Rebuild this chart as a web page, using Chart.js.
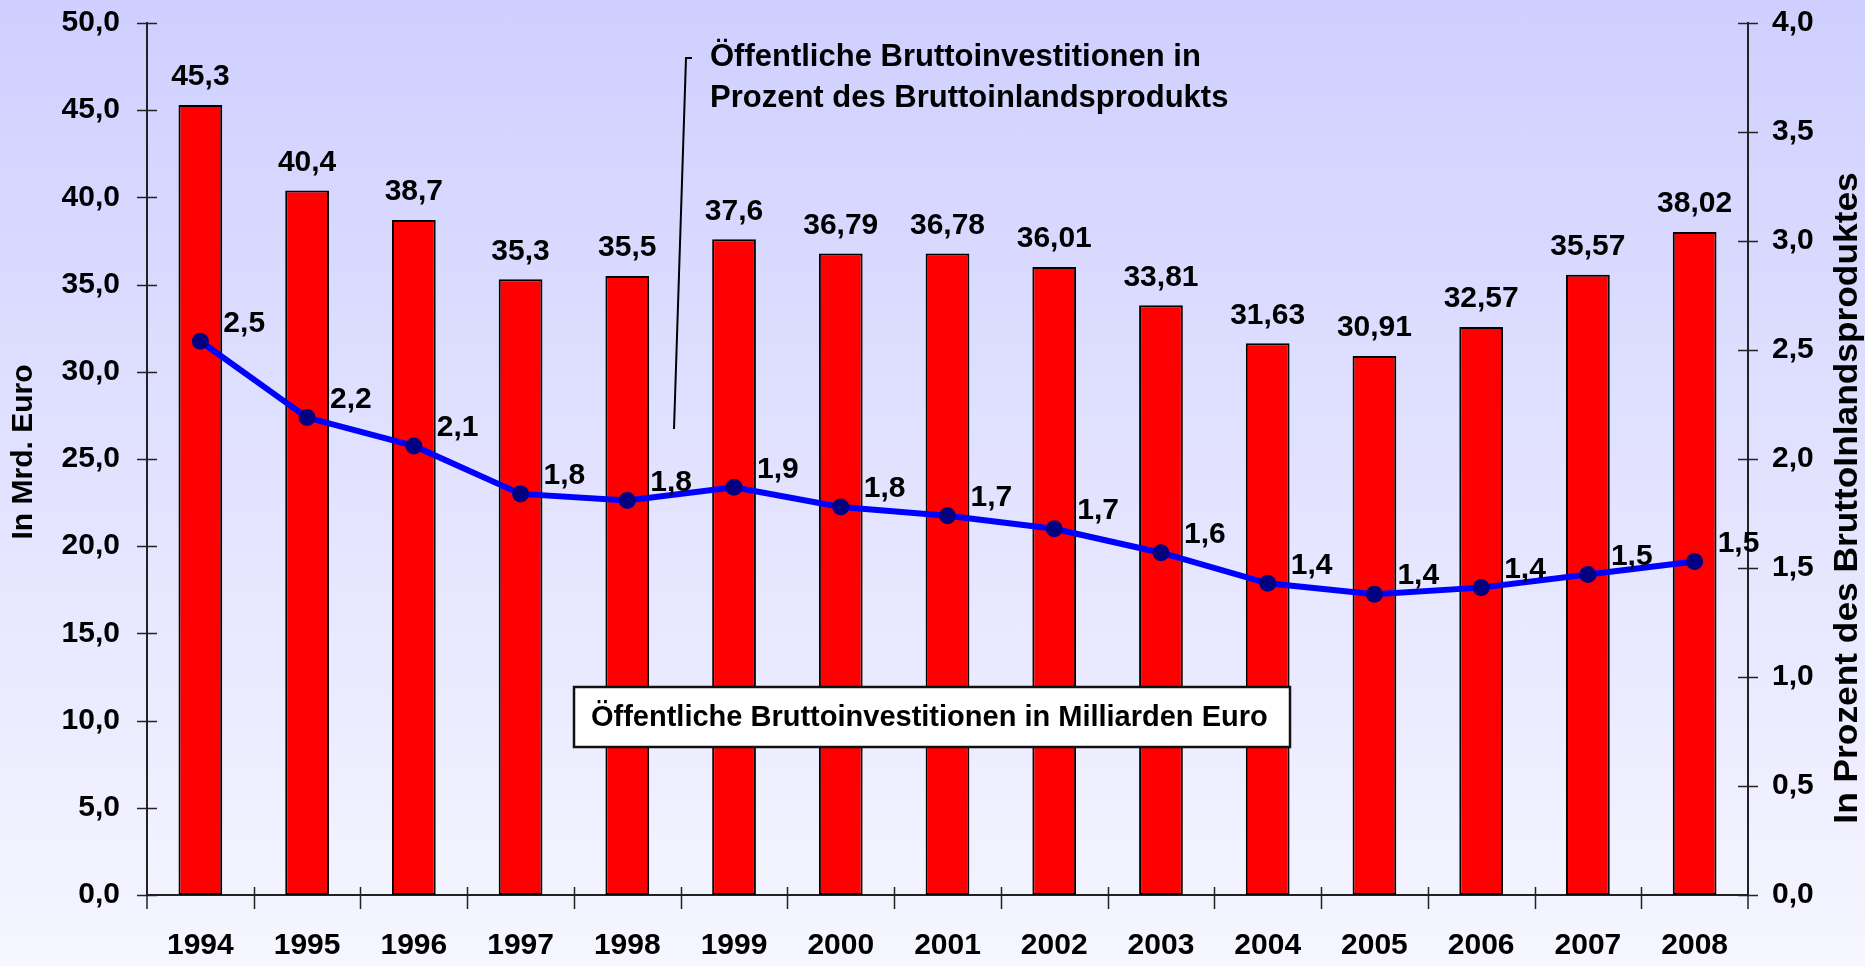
<!DOCTYPE html>
<html lang="de">
<head>
<meta charset="utf-8">
<title>Öffentliche Bruttoinvestitionen 1994–2008</title>
<script src="https://cdn.jsdelivr.net/npm/chart.js@4.4.1/dist/chart.umd.min.js"></script>
<style>
  html, body { margin: 0; padding: 0; }
  body {
    width: 1865px;
    height: 966px;
    overflow: hidden;
    background: linear-gradient(to bottom, #cfcfff 0%, #f6f6ff 100%);
  }
  canvas { display: block; }
</style>
</head>
<body>
<canvas id="chart" width="1865" height="966"></canvas>
<script>
// data
const years = ['1994', '1995', '1996', '1997', '1998', '1999', '2000', '2001',
  '2002', '2003', '2004', '2005', '2006', '2007', '2008'];
const investBillions = [45.3, 40.4, 38.7, 35.3, 35.5, 37.6, 36.79, 36.78,
  36.01, 33.81, 31.63, 30.91, 32.57, 35.57, 38.02];
const investShareGdp = [2.54, 2.19, 2.06, 1.84, 1.81, 1.87, 1.78, 1.74,
  1.68, 1.57, 1.43, 1.38, 1.41, 1.47, 1.53];

const barCaption = 'Öffentliche Bruttoinvestitionen in Milliarden Euro';
const lineCaption = ['Öffentliche Bruttoinvestitionen in', 'Prozent des Bruttoinlandsprodukts'];
const leftTitle = 'In Mrd. Euro';
const rightTitle = 'In Prozent des BruttoInlandsproduktes';

const FONT = '"Liberation Sans", Arial, Helvetica, sans-serif';
const comma = (v, d) => (d == null ? String(v) : v.toFixed(d)).replace('.', ',');

Chart.defaults.font.family = FONT;
Chart.defaults.color = '#000';

// fixed axis boxes so the plot area sits where it does in the original
const fitY = s => { s.width = 147; s.paddingTop = 23; s.paddingBottom = 0; };
const fitY1 = s => { s.width = 117; s.paddingTop = 23; s.paddingBottom = 0; };

const extras = {
  id: 'extras',
  afterDatasetsDraw(chart) {
    const ctx = chart.ctx;
    const { left, right, bottom } = chart.chartArea;
    const x = chart.scales.x, y = chart.scales.y, y1 = chart.scales.y1;

    ctx.save();
    // tick marks crossing the axes
    ctx.strokeStyle = '#222';
    ctx.lineWidth = 1.5;
    ctx.beginPath();
    y.ticks.forEach(t => {
      const py = Math.round(y.getPixelForValue(t.value)) + 0.5;
      ctx.moveTo(left - 10, py); ctx.lineTo(left + 10, py);
    });
    y1.ticks.forEach(t => {
      const py = Math.round(y1.getPixelForValue(t.value)) + 0.5;
      ctx.moveTo(right - 10, py); ctx.lineTo(right + 10, py);
    });
    for (let i = 1; i < years.length; i++) {
      const px = Math.round(x.getPixelForValue(i - 0.5)) + 0.5;
      ctx.moveTo(px, bottom - 8); ctx.lineTo(px, bottom + 14);
    }
    ctx.moveTo(left, bottom); ctx.lineTo(left, bottom + 14);
    ctx.moveTo(right, bottom); ctx.lineTo(right, bottom + 14);
    ctx.stroke();

    // value labels
    ctx.fillStyle = '#000';
    ctx.font = 'bold 30px ' + FONT;
    ctx.textBaseline = 'middle';
    ctx.textAlign = 'center';
    chart.getDatasetMeta(1).data.forEach((bar, i) => {
      ctx.fillText(comma(investBillions[i]), bar.x, bar.y - 28);
    });
    ctx.textAlign = 'left';
    chart.getDatasetMeta(0).data.forEach((pt, i) => {
      ctx.fillText(comma(investShareGdp[i], 1), pt.x + 23, pt.y - 18);
    });

    // caption box for the bars
    ctx.fillStyle = '#fff';
    ctx.fillRect(574, 687, 716, 60);
    ctx.strokeStyle = '#111';
    ctx.lineWidth = 2.5;
    ctx.strokeRect(574, 687, 716, 60);
    ctx.fillStyle = '#000';
    ctx.font = 'bold 29px ' + FONT;
    ctx.fillText(barCaption, 591, 718);

    // caption for the line with its leader
    ctx.font = 'bold 31px ' + FONT;
    ctx.fillText(lineCaption[0], 710, 57);
    ctx.fillText(lineCaption[1], 710, 98);
    ctx.strokeStyle = '#000';
    ctx.lineWidth = 2;
    ctx.beginPath();
    ctx.moveTo(692, 58); ctx.lineTo(686, 58); ctx.lineTo(674, 429);
    ctx.stroke();

    // axis titles
    ctx.textAlign = 'center';
    ctx.font = 'bold 30px ' + FONT;
    ctx.translate(24, 452);
    ctx.rotate(-Math.PI / 2);
    ctx.fillText(leftTitle, 0, 0);
    ctx.setTransform(1, 0, 0, 1, 0, 0);
    ctx.font = 'bold 33px ' + FONT;
    ctx.translate(1848, 498);
    ctx.rotate(-Math.PI / 2);
    ctx.scale(1.07, 1);
    ctx.fillText(rightTitle, 0, 0);
    ctx.restore();
  }
};

new Chart(document.getElementById('chart'), {
  data: {
    labels: years,
    datasets: [
      {
        type: 'line',
        label: lineCaption.join(' '),
        data: investShareGdp,
        yAxisID: 'y1',
        borderColor: '#0000ff',
        borderWidth: 6,
        pointRadius: 8.5,
        pointBackgroundColor: '#000080',
        pointBorderWidth: 0,
        tension: 0,
        order: 0,
      },
      {
        type: 'bar',
        label: barCaption,
        data: investBillions,
        yAxisID: 'y',
        backgroundColor: '#ff0000',
        borderColor: '#000',
        borderWidth: 2,
        borderSkipped: false,
        categoryPercentage: 1,
        barPercentage: 0.41,
        order: 1,
      },
    ],
  },
  options: {
    responsive: false,
    animation: false,
    devicePixelRatio: 1,
    layout: { padding: 0 },
    plugins: { legend: { display: false }, tooltip: { enabled: false } },
    scales: {
      x: {
        offset: true,
        grid: { display: false, drawTicks: false },
        border: { display: true, color: '#222', width: 2 },
        ticks: { font: { size: 30, weight: 'bold' }, padding: 33 },
        afterFit: s => { s.height = 71; },
      },
      y: {
        position: 'left',
        min: 0,
        max: 50,
        grid: { display: false, drawTicks: false },
        border: { display: true, color: '#222', width: 2 },
        ticks: {
          stepSize: 5,
          font: { size: 30, weight: 'bold' },
          padding: 27,
          callback: v => comma(v, 1),
        },
        afterFit: fitY,
      },
      y1: {
        position: 'right',
        min: 0,
        max: 4,
        grid: { display: false, drawTicks: false },
        border: { display: true, color: '#222', width: 2 },
        ticks: {
          stepSize: 0.5,
          font: { size: 30, weight: 'bold' },
          padding: 24,
          callback: v => comma(v, 1),
        },
        afterFit: fitY1,
      },
    },
  },
  plugins: [extras],
});
</script>
</body>
</html>
